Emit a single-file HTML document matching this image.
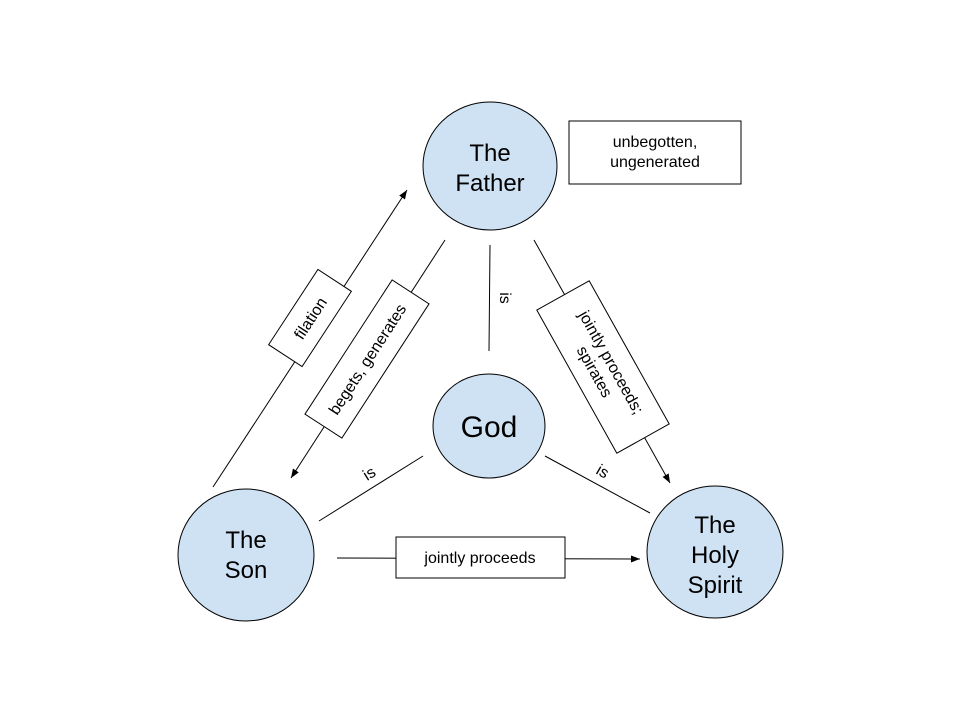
<!DOCTYPE html>
<html><head><meta charset="utf-8"><style>
html,body{margin:0;padding:0;background:#fff;}
svg{display:block;font-family:"Liberation Sans",Arial,sans-serif;}
</style></head><body>
<svg width="960" height="720" viewBox="0 0 960 720" xmlns="http://www.w3.org/2000/svg">
<defs>
<marker id="a" markerWidth="10" markerHeight="10" refX="9" refY="5" orient="auto" markerUnits="userSpaceOnUse">
<path d="M0,1.5 L9,5 L0,8.5 z" fill="#000"/>
</marker>
</defs>
<g stroke="#000" stroke-width="1" fill="none">
<line x1="213" y1="487" x2="407" y2="190" marker-end="url(#a)"/>
<line x1="445" y1="240" x2="291" y2="478" marker-end="url(#a)"/>
<line x1="490" y1="245" x2="489" y2="351"/>
<line x1="534" y1="240" x2="670" y2="483" marker-end="url(#a)"/>
<line x1="423" y1="456" x2="319" y2="521"/>
<line x1="545" y1="456" x2="650" y2="513"/>
<line x1="337" y1="558" x2="640" y2="559" marker-end="url(#a)"/>
</g>
<g fill="#cfe2f3" stroke="#000" stroke-width="1">
<ellipse cx="490" cy="166" rx="67" ry="64"/>
<ellipse cx="489" cy="426" rx="56" ry="52"/>
<ellipse cx="246" cy="555" rx="68" ry="66"/>
<ellipse cx="715" cy="552" rx="68" ry="66"/>
</g>
<g fill="#fff" stroke="#000" stroke-width="1">
<rect x="569" y="121" width="172" height="63"/>
<rect x="396" y="537" width="169" height="41"/>
<rect x="-45" y="-20" width="90" height="40" transform="translate(310,318) rotate(-56.8)"/>
<rect x="-80" y="-22" width="160" height="44" transform="translate(367,359) rotate(-57)"/>
<rect x="-82" y="-30" width="164" height="60" transform="translate(603,367) rotate(60.8)"/>
</g>
<g fill="#000" text-anchor="middle" font-size="24">
<text x="490" y="161">The</text>
<text x="490" y="191">Father</text>
<text x="489" y="437" font-size="30">God</text>
<text x="246" y="548">The</text>
<text x="246" y="578">Son</text>
<text x="715" y="533">The</text>
<text x="715" y="563">Holy</text>
<text x="715" y="593">Spirit</text>
</g>
<g fill="#000" text-anchor="middle" font-size="16">
<text x="655" y="147">unbegotten,</text>
<text x="655" y="167">ungenerated</text>
<text x="480" y="563">jointly proceeds</text>
<text transform="translate(310,318) rotate(-56.8)" y="6">filation</text>
<text transform="translate(367,359) rotate(-57)" y="6">begets, generates</text>
<text transform="translate(603,367) rotate(60.8)" y="-4">jointly proceeds;</text>
<text transform="translate(603,367) rotate(60.8)" y="15">spirates</text>
<text transform="translate(500,298) rotate(90)" y="0">is</text>
<text transform="translate(372,478) rotate(-32)" y="0">is</text>
<text transform="translate(600,476) rotate(30)" y="0">is</text>
</g>
</svg>
</body></html>
